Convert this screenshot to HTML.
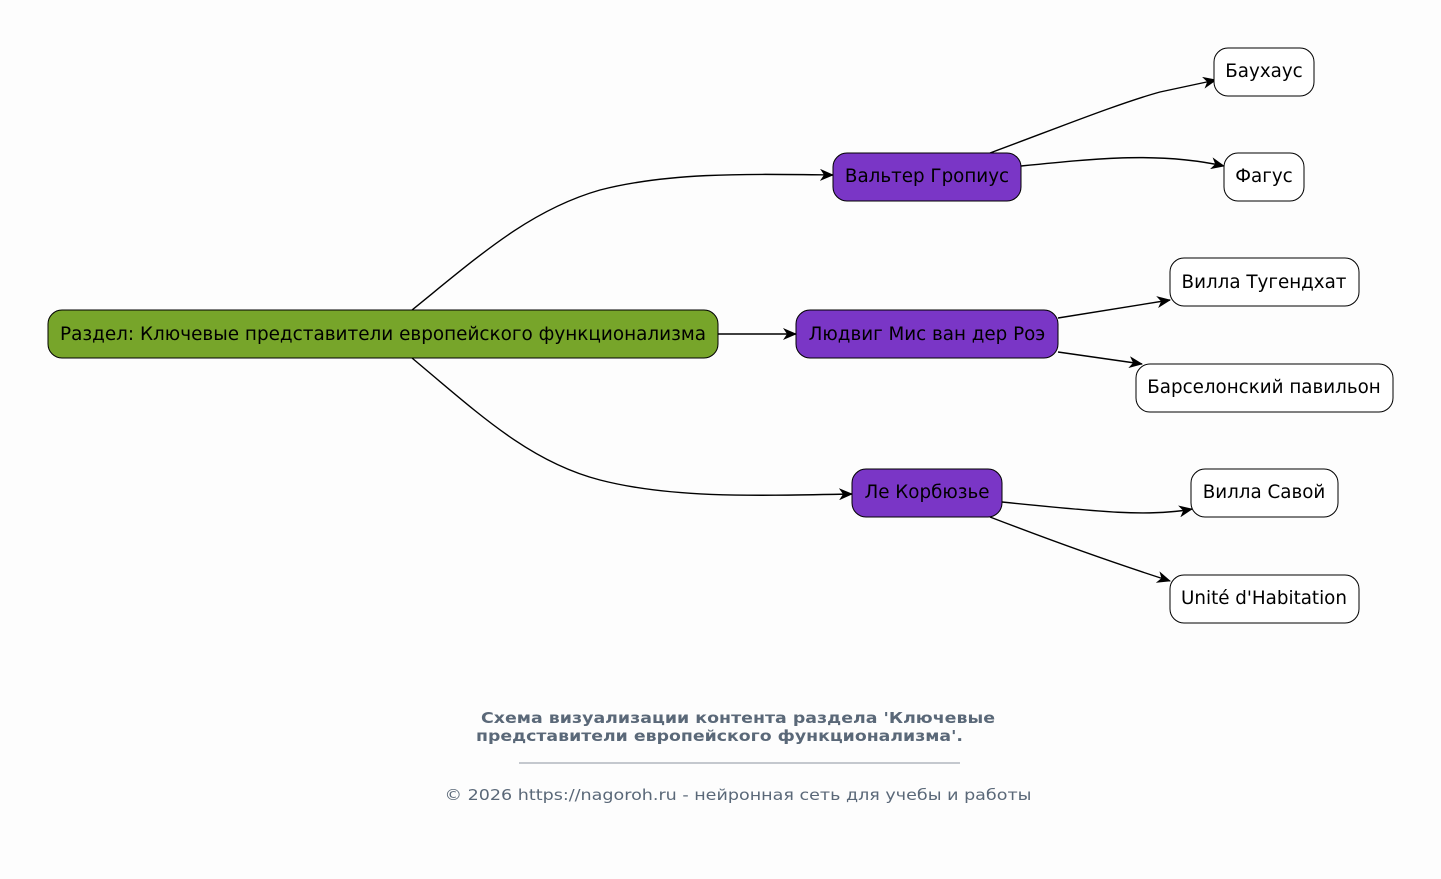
<!DOCTYPE html>
<html><head><meta charset="utf-8"><style>
html,body{margin:0;padding:0;background:#fdfdfd;}
svg{display:block;font-family:"DejaVu Sans","Liberation Sans",sans-serif;}
</style></head><body>
<svg width="1441" height="879" viewBox="0 0 1441 879" xmlns="http://www.w3.org/2000/svg">
<defs><marker id="a" markerWidth="14" markerHeight="12" refX="13" refY="6" orient="auto" markerUnits="userSpaceOnUse"><path d="M0,0 L14,6 L0,12 L4,6 z" fill="#000"/></marker></defs>
<rect width="1441" height="879" fill="#fdfdfd"/>
<g fill="none" stroke="#000" stroke-width="1.4" marker-end="url(#a)">
<path d="M412,310 C480,255 530,210 600,190 C670,172 750,174 833,175"/>
<path d="M718,334 L796,334"/>
<path d="M412,358 C480,415 530,462 600,480 C670,498 750,496 852,494"/>
<path d="M990,153 C1060,127 1120,103 1160,92 L1216,80"/>
<path d="M1021,166 C1100,158 1160,152 1224,166"/>
<path d="M1058,318 L1170,300"/>
<path d="M1058,352 L1142,364"/>
<path d="M1002,502 C1100,512 1150,517 1192,509"/>
<path d="M990,517 C1060,544 1120,565 1170,581"/>
</g>
<g stroke="#000" stroke-width="1">
<rect x="48" y="310" width="670" height="48" rx="14" fill="#77a52a"/>
<rect x="833" y="153" width="188" height="48" rx="14" fill="#7a36c6"/>
<rect x="796" y="310" width="262" height="48" rx="14" fill="#7a36c6"/>
<rect x="852" y="469" width="150" height="48" rx="14" fill="#7a36c6"/>
<rect x="1214" y="48" width="100" height="48" rx="14" fill="#fff"/>
<rect x="1224" y="153" width="80" height="48" rx="14" fill="#fff"/>
<rect x="1170" y="258" width="189" height="48" rx="14" fill="#fff"/>
<rect x="1136" y="364" width="257" height="48" rx="14" fill="#fff"/>
<rect x="1191" y="469" width="147" height="48" rx="14" fill="#fff"/>
<rect x="1170" y="575" width="189" height="48" rx="14" fill="#fff"/>
</g>
<g font-size="18.3" fill="#000" text-anchor="middle">
<text x="383" y="340" textLength="646" lengthAdjust="spacingAndGlyphs">Раздел: Ключевые представители европейского функционализма</text>
<text x="927" y="182">Вальтер Гропиус</text>
<text x="927" y="340">Людвиг Мис ван дер Роэ</text>
<text x="927" y="498">Ле Корбюзье</text>
<text x="1264" y="77">Баухаус</text>
<text x="1264" y="182">Фагус</text>
<text x="1264" y="288">Вилла Тугендхат</text>
<text x="1264" y="393">Барселонский павильон</text>
<text x="1264" y="498">Вилла Савой</text>
<text x="1264" y="604">Unité d'Habitation</text>
</g>
<g fill="#5a6878" font-size="15.5">
<text x="481" y="723" font-weight="bold" textLength="514" lengthAdjust="spacingAndGlyphs">Схема визуализации контента раздела 'Ключевые</text>
<text x="476" y="741" font-weight="bold" textLength="487" lengthAdjust="spacingAndGlyphs">представители европейского функционализма'.</text>
<line x1="519" y1="763" x2="960" y2="763" stroke="#8a94a0" stroke-width="1"/>
<text x="738" y="800" text-anchor="middle" font-size="15" textLength="587" lengthAdjust="spacingAndGlyphs">© 2026 https://nagoroh.ru - нейронная сеть для учебы и работы</text>
</g>
</svg>
</body></html>
